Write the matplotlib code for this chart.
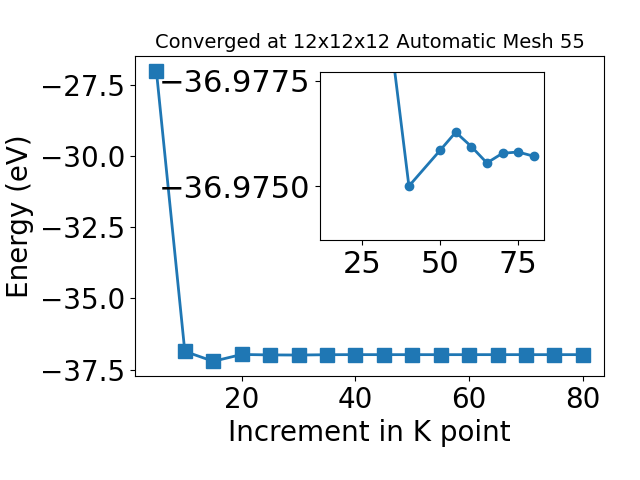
import matplotlib
matplotlib.use("Agg")
import matplotlib.pyplot as plt

kpoints = [5, 10, 15, 20, 25, 30, 35, 40, 45, 50, 55, 60, 65, 70, 75, 80]
energy = [-27.0, -36.86, -37.21, -36.97, -36.985, -36.99, -36.978, -36.975,
          -36.976, -36.9759, -36.9763, -36.9759, -36.9756, -36.9758, -36.9758, -36.9757]

inset_k = [35, 40, 50, 55, 60, 65, 70, 75, 80]
inset_e = [-36.9780, -36.9750, -36.97585, -36.97628, -36.97594, -36.97555,
           -36.97578, -36.97581, -36.97571]

fig = plt.figure(figsize=(6.4, 4.8), dpi=100)
ax = fig.add_axes([0.211, 0.217, 0.733, 0.666])
ax.plot(kpoints, energy, marker='s', markersize=10, linewidth=2, color='#1f77b4')
ax.set_xlabel('Increment in K point', fontsize=20)
ax.set_ylabel('Energy (eV)', fontsize=20)
ax.set_title('Converged at 12x12x12 Automatic Mesh 55', fontsize=14)
ax.tick_params(labelsize=20)
ax.set_yticks([-27.5, -30.0, -32.5, -35.0, -37.5])

ins = fig.add_axes([0.5, 0.5, 0.35, 0.35])
ins.plot(inset_k, inset_e, marker='o', markersize=6, linewidth=2, color='#1f77b4')
ins.set_xlim(11.5, 83.3)
ins.set_ylim(-36.97372, -36.97771)
ins.set_yticks([-36.9775, -36.9750])
ins.set_xticks([25, 50, 75])
ins.ticklabel_format(axis='y', useOffset=False)
ins.tick_params(labelsize=22)

fig.savefig('out.png', dpi=100)
